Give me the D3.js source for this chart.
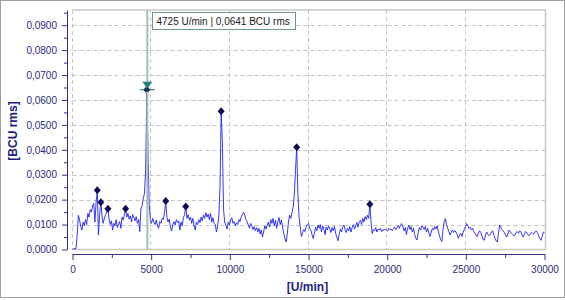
<!DOCTYPE html>
<html>
<head>
<meta charset="utf-8">
<script src="https://cdn.jsdelivr.net/npm/d3@7"></script>
<style>
  body { margin: 0; background: #fff; }
  text { font-family: "Liberation Sans", Arial, sans-serif; }
</style>
</head>
<body>
<div id="chart"></div>
<script>
// spectrum: one value every 75 U/min, from 0 to 30000
const rpmStep = 75;
const amplitude = [
  .0002,.0002,.0003,.0004,.0060,.0137,.0118,.0092,.0078,.0110,
  .0095,.0120,.0100,.0145,.0130,.0160,.0150,.0175,.0185,.0110,
  .0190,.0238,.0058,.0140,.0190,.0135,.0105,.0125,.0140,.0150,
  .0164,.0120,.0100,.0115,.0078,.0105,.0095,.0120,.0088,.0100,
  .0112,.0085,.0130,.0118,.0140,.0164,.0130,.0145,.0122,.0135,
  .0110,.0140,.0128,.0115,.0132,.0105,.0120,.0072,.0165,.0175,
  .0205,.0225,.0320,.0641,.0380,.0180,.0120,.0105,.0125,.0110,
  .0100,.0118,.0095,.0085,.0112,.0105,.0125,.0120,.0150,.0195,
  .0130,.0110,.0122,.0090,.0075,.0100,.0112,.0098,.0120,.0108,
  .0115,.0078,.0110,.0095,.0128,.0140,.0173,.0125,.0140,.0118,
  .0130,.0105,.0125,.0095,.0078,.0110,.0100,.0120,.0108,.0130,
  .0115,.0138,.0125,.0148,.0130,.0142,.0120,.0145,.0110,.0128,
  .0105,.0100,.0070,.0095,.0135,.0250,.0555,.0430,.0160,.0110,
  .0095,.0082,.0110,.0098,.0118,.0128,.0105,.0112,.0095,.0108,
  .0100,.0120,.0112,.0132,.0140,.0150,.0138,.0120,.0112,.0098,
  .0085,.0105,.0095,.0080,.0092,.0075,.0088,.0070,.0085,.0062,
  .0078,.0050,.0072,.0095,.0082,.0098,.0110,.0090,.0120,.0105,
  .0125,.0095,.0118,.0085,.0110,.0128,.0100,.0118,.0090,.0065,
  .0045,.0030,.0060,.0110,.0138,.0125,.0150,.0170,.0220,.0320,
  .0410,.0225,.0130,.0090,.0052,.0068,.0080,.0072,.0090,.0100,
  .0105,.0085,.0078,.0060,.0044,.0065,.0090,.0075,.0098,.0085,
  .0100,.0070,.0095,.0082,.0060,.0090,.0078,.0095,.0085,.0068,
  .0088,.0075,.0092,.0065,.0050,.0035,.0060,.0082,.0070,.0090,
  .0098,.0080,.0068,.0085,.0075,.0092,.0070,.0088,.0100,.0082,
  .0095,.0108,.0090,.0112,.0118,.0100,.0125,.0110,.0132,.0120,
  .0138,.0125,.0182,.0110,.0064,.0080,.0075,.0088,.0070,.0082,
  .0078,.0085,.0072,.0080,.0076,.0082,.0078,.0074,.0085,.0079,
  .0082,.0076,.0084,.0090,.0080,.0088,.0095,.0085,.0100,.0104,
  .0090,.0075,.0088,.0060,.0085,.0098,.0080,.0092,.0070,.0085,
  .0060,.0045,.0038,.0070,.0088,.0078,.0095,.0090,.0080,.0092,
  .0070,.0085,.0065,.0052,.0070,.0085,.0078,.0092,.0082,.0095,
  .0075,.0055,.0040,.0032,.0080,.0112,.0124,.0100,.0085,.0072,
  .0058,.0070,.0078,.0068,.0076,.0070,.0060,.0045,.0058,.0065,
  .0052,.0068,.0080,.0092,.0104,.0095,.0085,.0090,.0078,.0085,
  .0072,.0065,.0058,.0052,.0065,.0075,.0068,.0055,.0040,.0037,
  .0058,.0070,.0062,.0055,.0060,.0070,.0075,.0060,.0045,.0035,
  .0030,.0065,.0098,.0088,.0080,.0075,.0068,.0058,.0050,.0062,
  .0078,.0072,.0065,.0060,.0055,.0058,.0068,.0072,.0065,.0075,
  .0070,.0058,.0050,.0062,.0072,.0068,.0060,.0055,.0063,.0068,
  .0065,.0062,.0070,.0075,.0068,.0055,.0045,.0037,.0052,.0070,.0068
];

// marked peaks (U/min)
const peakRpm = [1575, 1800, 2250, 3375, 4725, 5925, 7200, 9450, 14250, 18900];

// cursor
const cursorRpm = 4725;
const cursorValue = 0.0641;

const xTicks = [0, 5000, 10000, 15000, 20000, 25000, 30000];
const xMinorTicks = [2500, 7500, 12500, 17500, 22500, 27500];
const yTicks = [0, 0.01, 0.02, 0.03, 0.04, 0.05, 0.06, 0.07, 0.08, 0.09];
const yMinorTicks = [0.005, 0.015, 0.025, 0.035, 0.045, 0.055, 0.065, 0.075, 0.085, 0.095];

const xTitle = "[U/min]";
const yTitle = "[BCU rms]";

const data = amplitude.map((v, i) => ({ rpm: i * rpmStep, value: v }));

const width = 565, height = 300;
const plot = { left: 72.5, right: 544.5, top: 10, bottom: 249.5 };

const x = d3.scaleLinear().domain([0, 30000]).range([plot.left, plot.right]);
const y = d3.scaleLinear().domain([0, 0.0961]).range([plot.bottom, plot.top]);

const deDE = d3.formatLocale({ decimal: ",", thousands: ".", grouping: [3], currency: ["", "€"] });
const fmtY = deDE.format(".4f");

const axisColor = "#33338a";
const labelColor = "#2c2c78";

const svg = d3.select("#chart")
  .append("svg")
  .attr("width", width)
  .attr("height", height);

// outer border
svg.append("rect")
  .attr("x", 0.5).attr("y", 0.5)
  .attr("width", width - 1).attr("height", 297)
  .attr("fill", "#fff")
  .attr("stroke", "#a0a0a0");

// grid
svg.append("g")
  .selectAll("line")
  .data(yTicks.filter(d => d > 0))
  .join("line")
  .attr("x1", plot.left).attr("x2", plot.right + 1)
  .attr("y1", d => Math.round(y(d)) + 0.5).attr("y2", d => Math.round(y(d)) + 0.5)
  .attr("stroke", "#c4c4c4")
  .attr("stroke-dasharray", "4,3");

svg.append("g")
  .selectAll("line")
  .data(xTicks.filter(d => d < 30000))
  .join("line")
  .attr("x1", d => Math.round(x(d)) - 0.5).attr("x2", d => Math.round(x(d)) - 0.5)
  .attr("y1", plot.top).attr("y2", plot.bottom)
  .attr("stroke", "#c4c4c4")
  .attr("stroke-dasharray", "4,3");

// plot frame (top, right, bottom)
svg.append("path")
  .attr("d", `M${plot.left},${plot.top} H${plot.right + 1} V${plot.bottom} H${plot.left}`)
  .attr("fill", "none")
  .attr("stroke", "#c8c8c8")
  .attr("stroke-width", 1.5);

// spectrum line
const line = d3.line()
  .x(d => x(d.rpm))
  .y(d => y(d.value));

svg.append("path")
  .datum(data)
  .attr("fill", "none")
  .attr("stroke", "#2222f2")
  .attr("stroke-width", 0.9)
  .attr("stroke-linejoin", "round")
  .attr("d", line);

// peak markers
const peaks = peakRpm.map(r => data[Math.round(r / rpmStep)]);
svg.append("g")
  .selectAll("path")
  .data(peaks)
  .join("path")
  .attr("d", d => {
    const cx = x(d.rpm), cy = y(d.value);
    return `M${cx},${cy - 4} L${cx + 3.5},${cy} L${cx},${cy + 4} L${cx - 3.5},${cy} Z`;
  })
  .attr("fill", "#0c0c58");

// cursor
const cx = x(cursorRpm), cy = y(cursorValue);
svg.append("line")
  .attr("x1", cx + 0.5).attr("x2", cx + 0.5)
  .attr("y1", plot.top).attr("y2", plot.bottom)
  .attr("stroke", "#a6bdb8")
  .attr("stroke-width", 2);

svg.append("line")
  .attr("x1", cx - 7).attr("x2", cx + 8)
  .attr("y1", cy).attr("y2", cy)
  .attr("stroke", "#1f6f6c")
  .attr("stroke-width", 1);

svg.append("path")
  .attr("d", `M${cx - 4.5},${cy - 8} L${cx + 5.5},${cy - 8} L${cx + 0.5},${cy - 1} Z`)
  .attr("fill", "#1f7f7a");

svg.append("path")
  .attr("d", `M${cx + 0.5},${cy - 2.5} L${cx + 3},${cy} L${cx + 0.5},${cy + 2} L${cx - 2},${cy} Z`)
  .attr("fill", "#0c3c4c");

// cursor tooltip
svg.append("rect")
  .attr("x", 152.5).attr("y", 12.5)
  .attr("width", 143).attr("height", 17)
  .attr("fill", "#fff")
  .attr("stroke", "#6d9690");

svg.append("text")
  .attr("x", 156.5).attr("y", 25)
  .attr("font-size", 10)
  .attr("fill", "#1a1a1a")
  .text(`${cursorRpm} U/min | ${fmtY(cursorValue)} BCU rms`);

// y axis
const yAxisG = svg.append("g")
  .attr("transform", "translate(67,0)")
  .call(d3.axisLeft(y)
    .tickValues(yTicks)
    .tickSize(5)
    .tickSizeOuter(0)
    .tickPadding(5)
    .tickFormat(fmtY));

svg.append("g")
  .attr("transform", "translate(67,0)")
  .call(d3.axisLeft(y)
    .tickValues(yMinorTicks.filter(d => y(d) >= plot.top))
    .tickSize(3)
    .tickSizeOuter(0)
    .tickFormat(""))
  .select(".domain").remove();

// x axis
svg.append("g")
  .attr("transform", "translate(0,254)")
  .call(d3.axisBottom(x)
    .tickValues(xTicks)
    .tickSize(6)
    .tickSizeOuter(0)
    .tickPadding(6)
    .tickFormat(d3.format("d")));

svg.append("g")
  .attr("transform", "translate(0,254)")
  .call(d3.axisBottom(x)
    .tickValues(xMinorTicks)
    .tickSize(4)
    .tickSizeOuter(0)
    .tickFormat(""))
  .select(".domain").remove();

svg.selectAll(".domain, .tick line")
  .attr("stroke", axisColor);
svg.selectAll(".tick text")
  .attr("font-family", "'Liberation Sans', Arial, sans-serif")
  .attr("font-size", 10)
  .attr("fill", labelColor);

// axis titles
svg.append("text")
  .attr("x", 307.5).attr("y", 291)
  .attr("text-anchor", "middle")
  .attr("font-size", 12)
  .attr("font-weight", "bold")
  .attr("fill", "#1e1e86")
  .text(xTitle);

svg.append("text")
  .attr("transform", "translate(16.5,131) rotate(-90)")
  .attr("text-anchor", "middle")
  .attr("font-size", 12)
  .attr("font-weight", "bold")
  .attr("fill", "#1e1e86")
  .text(yTitle);
</script>
</body>
</html>
